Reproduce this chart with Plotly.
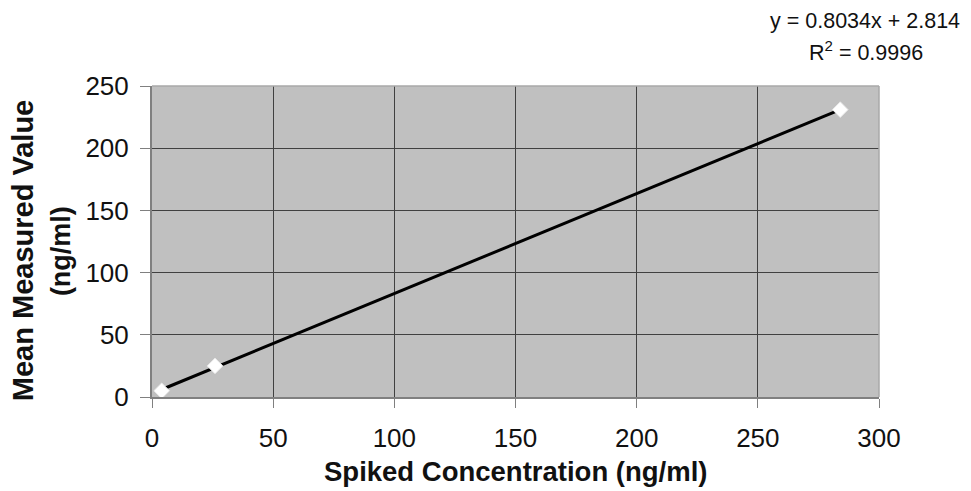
import plotly.graph_objects as go

# Recovery data: spiked vs. mean measured concentration (ng/ml)
spiked = [4, 26, 284]
measured = [5, 25, 231]

# Linear regression reported on the chart
slope = 0.8034
intercept = 2.814
r_squared = 0.9996

x_ticks = [0, 50, 100, 150, 200, 250, 300]
y_ticks = [0, 50, 100, 150, 200, 250]

font_family = "Liberation Sans, Arial, sans-serif"

fit_x = [min(spiked), max(spiked)]
fit_y = [slope * v + intercept for v in fit_x]

fig = go.Figure()

fig.add_trace(go.Scatter(
    x=fit_x, y=fit_y, mode="lines",
    line=dict(color="black", width=3),
    showlegend=False, hoverinfo="skip",
))

fig.add_trace(go.Scatter(
    x=spiked, y=measured, mode="markers",
    marker=dict(symbol="diamond", size=12, color="white",
                line=dict(color="#e8e8e8", width=1)),
    showlegend=False,
))

fig.update_layout(
    width=971, height=491,
    margin=dict(l=152, r=92, t=86, b=94),
    paper_bgcolor="white",
    plot_bgcolor="#c0c0c0",
    font=dict(family=font_family, size=26, color="#111"),
    xaxis=dict(
        range=[0, 300], tickvals=x_ticks,
        showgrid=True, gridcolor="#404040", gridwidth=1,
        zeroline=False,
        showline=True, linecolor="#808080", linewidth=2,
        ticks="outside", ticklen=9, tickcolor="#808080", tickwidth=1,
        tickfont=dict(size=26),
        ticklabelstandoff=8,
    ),
    yaxis=dict(
        range=[0, 250], tickvals=y_ticks,
        showgrid=True, gridcolor="#404040", gridwidth=1,
        zeroline=False,
        showline=True, linecolor="#808080", linewidth=2,
        ticks="outside", ticklen=10, tickcolor="#808080", tickwidth=1,
        tickfont=dict(size=26),
        ticklabelstandoff=6,
    ),
    shapes=[
        # light frame along the top and right edges of the plot area
        dict(type="line", xref="paper", yref="paper", x0=0, x1=1, y0=1, y1=1,
             line=dict(color="#a8a8a8", width=1.5)),
        dict(type="line", xref="paper", yref="paper", x0=1, x1=1, y0=0, y1=1,
             line=dict(color="#a8a8a8", width=1.5)),
    ],
    annotations=[
        dict(text="<b>Spiked Concentration (ng/ml)</b>",
             xref="paper", yref="paper", x=0.5, y=-0.241,
             xanchor="center", yanchor="middle", showarrow=False,
             font=dict(size=27.5)),
        dict(text="<b>Mean Measured Value</b>", textangle=-90,
             xref="paper", yref="paper", x=-0.1774, y=0.469,
             xanchor="center", yanchor="middle", showarrow=False,
             font=dict(size=29)),
        dict(text="<b>(ng/ml)</b>", textangle=-90,
             xref="paper", yref="paper", x=-0.1252, y=0.469,
             xanchor="center", yanchor="middle", showarrow=False,
             font=dict(size=27)),
        dict(text=f"y = {slope}x + {intercept}",
             xref="paper", yref="paper", x=0.981, y=1.209,
             xanchor="center", yanchor="middle", showarrow=False,
             font=dict(size=21.5)),
        dict(text=f"R<sup>2</sup> = {r_squared}",
             xref="paper", yref="paper", x=0.982, y=1.1125,
             xanchor="center", yanchor="middle", showarrow=False,
             font=dict(size=21.5)),
    ],
)

fig.write_html("out.html")
